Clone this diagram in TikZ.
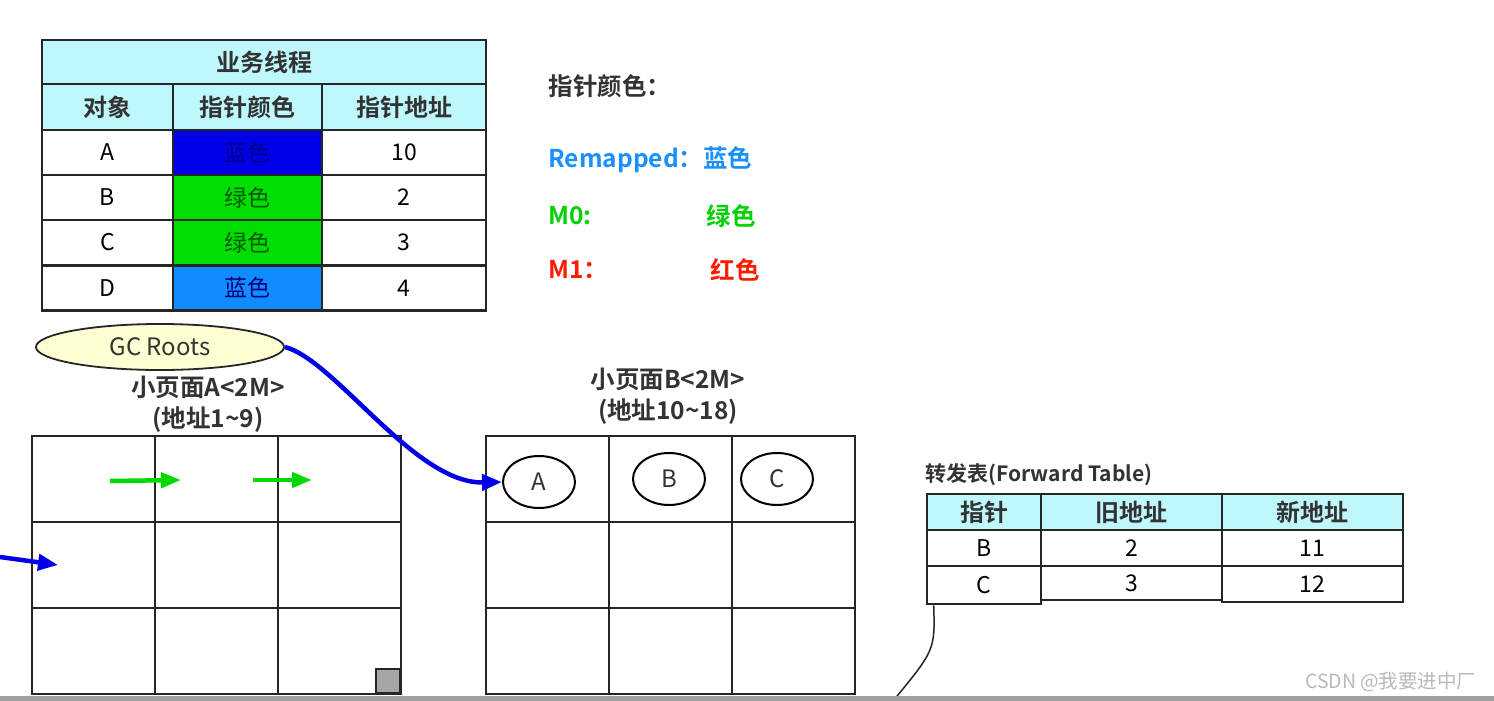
\documentclass[tikz,border=0pt]{standalone}
\usepackage{fontspec}
\setmainfont{Noto Sans CJK SC}[BoldFont={Noto Sans CJK SC Bold}]
\usepackage{tikz}
\usetikzlibrary{arrows.meta,shapes.geometric,positioning}

\definecolor{hdrcyan}{RGB}{190,247,252}
\definecolor{ptrblue}{RGB}{0,0,230}
\definecolor{ptrgreen}{RGB}{0,221,0}
\definecolor{ptrsky}{RGB}{16,140,255}
\definecolor{lgdblue}{RGB}{26,144,255}
\definecolor{lgdgreen}{RGB}{0,210,0}
\definecolor{lgdred}{RGB}{255,26,0}
\definecolor{gcyellow}{RGB}{255,255,212}
\definecolor{inkgray}{RGB}{51,51,51}

\tikzset{
  cell/.style={draw=black!85, line width=2.6pt, inner sep=0pt, font=\fontsize{23}{26}\selectfont},
  hcell/.style={cell, fill=hdrcyan, font=\fontsize{24}{28}\selectfont\bfseries, text=inkgray},
  obj/.style={ellipse, draw, line width=2pt, minimum width=72pt, minimum height=52pt, inner sep=0pt, font=\fontsize{24}{26}\selectfont, text=inkgray},
  pagelabel/.style={align=center, font=\fontsize{24.5}{31}\selectfont\bfseries, text=inkgray},
  legend/.style={anchor=west, font=\fontsize{24.5}{28}\selectfont\bfseries},
  greenptr/.style={-{Triangle[length=20pt,width=15pt]}, line width=4.5pt, green!85!black},
  blueptr/.style={-{Triangle[length=20pt,width=16pt]}, line width=4.5pt, ptrblue}
}

\begin{document}
\begin{tikzpicture}[x=1pt,y=-1pt]

\useasboundingbox[fill=white] (0,0) rectangle (1494,701);

% Business thread table
\node[hcell, minimum width=444pt, minimum height=44pt] (title) at (264,62) {业务线程};
\node[hcell, minimum width=131pt, minimum height=46pt] (hobj) at (107.5,107) {对象};
\node[hcell, minimum width=149pt, minimum height=46pt] (hcol) at (247.5,107) {指针颜色};
\node[hcell, minimum width=164pt, minimum height=46pt] (hadr) at (404,107) {指针地址};
\foreach \name/\fillc/\txtc/\txt/\addr/\y in {
    A/ptrblue/blue!55!black/蓝色/10/152.5,
    B/ptrgreen/green!35!black/绿色/2/197.5,
    C/ptrgreen/green!35!black/绿色/3/242.5,
    D/ptrsky/blue!45!black/蓝色/4/288}{
  \node[cell, minimum width=131pt, minimum height=45pt] (row\name) at (107.5,\y) {\name};
  \node[cell, fill=\fillc, text=\txtc, minimum width=149pt, minimum height=45pt] (col\name) at (247.5,\y) {\txt};
  \node[cell, minimum width=164pt, minimum height=45pt] (adr\name) at (404,\y) {\addr};
}

% Legend of pointer colours
\node[legend, text=inkgray] (lgdhead) at (545,86) {指针颜色：};
\node[legend, text=lgdblue] (lgdremap) at (545,160) {Remapped：蓝色};
\node[legend, text=lgdgreen] (lgdmzero) at (545,216) {M0:};
\node[legend, text=lgdgreen] (lgdgreen) at (703,216) {绿色};
\node[legend, text=lgdred] (lgdmone) at (545,270) {M1：};
\node[legend, text=lgdred] (lgdred) at (707,270) {红色};

% GC Roots
\node[ellipse, draw=black!85, line width=1.8pt, fill=gcyellow, minimum width=248pt, minimum height=46pt,
  font=\fontsize{24}{26}\selectfont, text=inkgray] (gc) at (160,347) {GC Roots};

% Small page A
\node[pagelabel] (labelA) at (208,404) {小页面A<2M>\\(地址1\textasciitilde 9)};
\foreach \c in {0,1,2}
  \foreach \r in {0,1,2}
    \node[cell, minimum width=123pt, minimum height=86pt] (pa-\r-\c) at (93.5+123*\c,479+86*\r) {};
\node[draw=black!85, line width=2.4pt, fill=gray!70, minimum size=24pt, inner sep=0pt] (corner) at (388,681) {};

% Small page B
\node[pagelabel] (labelB) at (668,396) {小页面B<2M>\\(地址10\textasciitilde 18)};
\foreach \c in {0,1,2}
  \foreach \r in {0,1,2}
    \node[cell, minimum width=123pt, minimum height=86pt] (pb-\r-\c) at (547.5+123*\c,479+86*\r) {};
\node[obj] (objA) at (539,482) {A};
\node[obj] (objB) at (669,479) {B};
\node[obj] (objC) at (777,479) {C};

% Pointers
\coordinate (stA) at (110,481);
\coordinate (enA) at (181,480);
\coordinate (stB) at (253,480);
\coordinate (enB) at (312,480);
\draw[greenptr] (stA) -- (enA);
\draw[greenptr] (stB) -- (enB);
\coordinate (inleft) at (0,557);
\coordinate (inhead) at (58,565);
\draw[blueptr] (inleft) -- (inhead);
\draw[blueptr] (gc.east) .. controls (335,360) and (415,484) .. (objA.west);

% Forward table
\node[anchor=west, font=\fontsize{21}{24}\selectfont\bfseries, text=inkgray] (fwdlabel) at (922,475) {转发表(Forward Table)};
\node[hcell, minimum width=114pt, minimum height=36pt] (fwdhptr) at (984,512) {指针};
\node[hcell, minimum width=181pt, minimum height=36pt] (fwdhold) at (1131.5,512) {旧地址};
\node[hcell, minimum width=181pt, minimum height=36pt] (fwdhnew) at (1312.5,512) {新地址};
\node[cell, minimum width=114pt, minimum height=36pt] (fwdB) at (984,548) {B};
\node[cell, minimum width=181pt, minimum height=36pt] (oldB) at (1131.5,548) {2};
\node[cell, minimum width=181pt, minimum height=36pt] (newB) at (1312.5,548) {11};
\node[cell, minimum width=114pt, minimum height=38pt] (fwdC) at (984,585) {C};
\node[cell, minimum width=181pt, minimum height=34pt] (oldC) at (1131.5,583) {3};
\node[cell, minimum width=181pt, minimum height=36pt] (newC) at (1312.5,584) {12};
\coordinate (tail) at (893,701);
\draw[line width=1.5pt, black!85] ([xshift=8pt]fwdC.south west) .. controls (935,650) .. (tail);

% Bottom bar and watermark
\fill[gray!75] (0,696) rectangle (1494,701);
\node[anchor=east, font=\fontsize{19.5}{22}\selectfont, text=gray!55] (mark) at (1480,682) {CSDN @我要进中厂};

\end{tikzpicture}
\end{document}
